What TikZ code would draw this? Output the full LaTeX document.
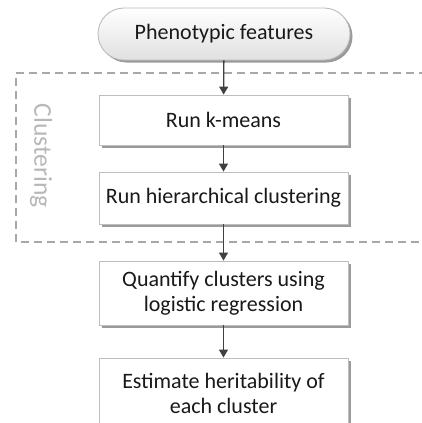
\documentclass[tikz,border=0pt]{standalone}
\usepackage{fontspec}
\usepackage{graphicx}
\setmainfont{Carlito}
\usetikzlibrary{shadows,arrows.meta,shapes.misc}
\definecolor{boxline}{HTML}{BDBDBD}
\definecolor{shadowc}{HTML}{9A9A9A}
\definecolor{arrowc}{HTML}{404040}
\definecolor{dashc}{HTML}{A8A8A8}
\definecolor{labelc}{HTML}{B8B8B8}
\tikzset{
  stepbox/.style={draw=boxline, line width=0.9pt, fill=white, minimum width=249pt,
    align=center, font=\fontsize{22}{25}\selectfont, text=black!90, inner sep=2pt,
    general shadow={shadow xshift=2.5pt, shadow yshift=-2.5pt, fill=shadowc}},
  startbox/.style={rounded rectangle, draw=boxline, line width=0.9pt, minimum width=256pt,
    minimum height=52pt, top color=white, bottom color=black!12, inner sep=2pt,
    font=\fontsize{22}{25}\selectfont, text=black!90,
    general shadow={shadow xshift=2.5pt, shadow yshift=-2.5pt, fill=shadowc}},
  flow/.style={draw=arrowc, line width=1.3pt, -{Triangle[length=8pt,width=9pt]}},
  groupline/.style={draw=dashc, line width=2pt, dash pattern=on 8pt off 5pt},
}
\begin{document}
\begin{tikzpicture}[x=1pt,y=-1pt]
\useasboundingbox (0,0) rectangle (422,423);
\fill[white] (0,0) rectangle (422,423);
% cluster group
\draw[groupline] (440,73) -- (16,73) -- (16,242) -- (440,242);
\node[rotate=-90, text=labelc, font=\fontsize{25}{28}\selectfont, inner sep=0pt] (lbl) at (41,156) {\resizebox{104pt}{!}{Clustering}};
% nodes
\node[startbox] (pheno) at (224,34) {Phenotypic features};
\node[stepbox, minimum height=50pt] (km) at (223.5,120) {Run k-means};
\node[stepbox, minimum height=52pt] (hier) at (223.5,198) {Run hierarchical clustering};
\node[stepbox, minimum height=64pt] (quant) at (223.5,293) {Quantify clusters using\\logistic regression};
\node[stepbox, minimum height=70pt] (est) at (223.5,393) {Estimate heritability of\\each cluster};
% arrows
\draw[flow] (pheno) -- (km);
\draw[flow] (km) -- (hier);
\draw[flow] (hier) -- (quant);
\draw[flow] (quant) -- (est);
\end{tikzpicture}
\end{document}
